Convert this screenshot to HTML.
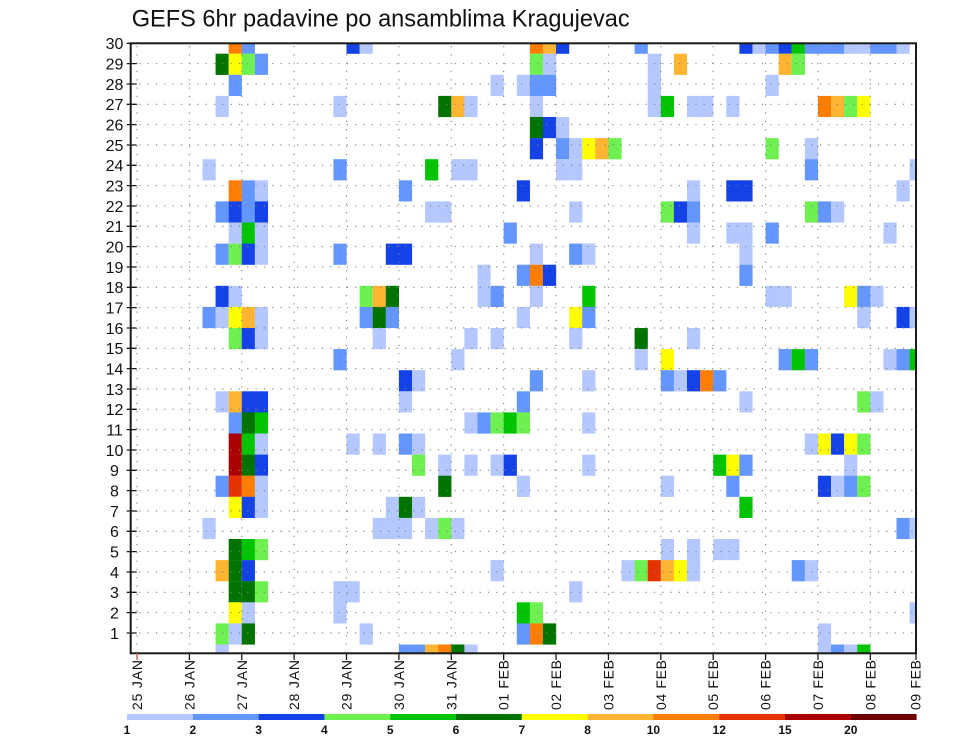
<!DOCTYPE html>
<html>
<head>
<meta charset="utf-8">
<style>
html,body{margin:0;padding:0;background:#fff;}
svg{display:block;}
.L{fill:#b4c8ff}.M{fill:#6496ff}.B{fill:#1442e6}
.g{fill:#6ef050}.G{fill:#00c400}.D{fill:#007300}
.Y{fill:#ffff00}.o{fill:#ffb432}.O{fill:#ff7d00}
.R{fill:#e63200}.K{fill:#aa0000}.X{fill:#6e0000}
text{font-family:"Liberation Sans",sans-serif;fill:#111;}
</style>
</head>
<body>
<svg width="960" height="742" viewBox="0 0 960 742" xmlns="http://www.w3.org/2000/svg">
<defs>
<clipPath id="pc"><rect x="130.7" y="43.3" width="785.3" height="610"/></clipPath>
</defs>
<rect x="0" y="0" width="960" height="742" fill="#fff"/>

<text x="131.7" y="26.7" font-size="24" textLength="498" lengthAdjust="spacingAndGlyphs">GEFS 6hr padavine po ansamblima Kragujevac</text>

<g clip-path="url(#pc)">
<!-- j0 -->
<g transform="translate(0,32.6)">
<rect x="228.67" width="13.2" height="21.2" class="O"/><rect x="241.76" width="13.2" height="21.2" class="M"/>
<rect x="346.52" width="13.2" height="21.2" class="B"/><rect x="359.62" width="13.2" height="21.2" class="L"/>
<rect x="529.85" width="13.2" height="21.2" class="O"/><rect x="542.95" width="13.2" height="21.2" class="o"/><rect x="556.04" width="13.2" height="21.2" class="B"/>
<rect x="634.61" width="13.2" height="21.2" class="M"/>
<rect x="739.37" width="13.2" height="21.2" class="B"/><rect x="752.47" width="13.2" height="21.2" class="L"/><rect x="765.56" width="13.2" height="21.2" class="M"/><rect x="778.66" width="13.2" height="21.2" class="B"/><rect x="791.75" width="13.2" height="21.2" class="G"/><rect x="804.85" width="13.2" height="21.2" class="M"/><rect x="817.94" width="13.2" height="21.2" class="M"/><rect x="831.04" width="13.2" height="21.2" class="M"/><rect x="844.13" width="13.2" height="21.2" class="L"/><rect x="857.23" width="13.2" height="21.2" class="L"/><rect x="870.32" width="13.2" height="21.2" class="M"/><rect x="883.42" width="13.2" height="21.2" class="M"/><rect x="896.51" width="13.2" height="21.2" class="L"/>
</g>
<!-- j1 -->
<g transform="translate(0,53.7)">
<rect x="215.57" width="13.2" height="21.2" class="D"/><rect x="228.67" width="13.2" height="21.2" class="Y"/><rect x="241.76" width="13.2" height="21.2" class="g"/><rect x="254.86" width="13.2" height="21.2" class="M"/>
<rect x="529.85" width="13.2" height="21.2" class="g"/><rect x="542.95" width="13.2" height="21.2" class="L"/>
<rect x="647.71" width="13.2" height="21.2" class="L"/><rect x="673.90" width="13.2" height="21.2" class="o"/>
<rect x="778.66" width="13.2" height="21.2" class="o"/><rect x="791.75" width="13.2" height="21.2" class="g"/>
</g>
<!-- j2 -->
<g transform="translate(0,74.8)">
<rect x="228.67" width="13.2" height="21.2" class="M"/>
<rect x="490.57" width="13.2" height="21.2" class="L"/><rect x="516.76" width="13.2" height="21.2" class="L"/><rect x="529.85" width="13.2" height="21.2" class="M"/><rect x="542.95" width="13.2" height="21.2" class="M"/>
<rect x="647.71" width="13.2" height="21.2" class="L"/><rect x="765.56" width="13.2" height="21.2" class="L"/>
</g>
<!-- j3 -->
<g transform="translate(0,95.9)">
<rect x="215.57" width="13.2" height="21.2" class="L"/><rect x="333.43" width="13.2" height="21.2" class="L"/>
<rect x="438.19" width="13.2" height="21.2" class="D"/><rect x="451.28" width="13.2" height="21.2" class="o"/><rect x="464.38" width="13.2" height="21.2" class="L"/>
<rect x="529.85" width="13.2" height="21.2" class="L"/>
<rect x="647.71" width="13.2" height="21.2" class="L"/><rect x="660.80" width="13.2" height="21.2" class="G"/><rect x="686.99" width="13.2" height="21.2" class="L"/><rect x="700.09" width="13.2" height="21.2" class="L"/><rect x="726.28" width="13.2" height="21.2" class="L"/>
<rect x="817.94" width="13.2" height="21.2" class="O"/><rect x="831.04" width="13.2" height="21.2" class="o"/><rect x="844.13" width="13.2" height="21.2" class="g"/><rect x="857.23" width="13.2" height="21.2" class="Y"/>
</g>
<!-- j4 -->
<g transform="translate(0,117.0)">
<rect x="529.85" width="13.2" height="21.2" class="D"/><rect x="542.95" width="13.2" height="21.2" class="B"/><rect x="556.04" width="13.2" height="21.2" class="L"/>
</g>
<!-- j5 -->
<g transform="translate(0,138.1)">
<rect x="529.85" width="13.2" height="21.2" class="B"/><rect x="556.04" width="13.2" height="21.2" class="M"/><rect x="569.14" width="13.2" height="21.2" class="L"/><rect x="582.23" width="13.2" height="21.2" class="Y"/><rect x="595.33" width="13.2" height="21.2" class="o"/><rect x="608.42" width="13.2" height="21.2" class="g"/>
<rect x="765.56" width="13.2" height="21.2" class="g"/><rect x="804.85" width="13.2" height="21.2" class="L"/>
</g>
<!-- j6 -->
<g transform="translate(0,159.2)">
<rect x="202.48" width="13.2" height="21.2" class="L"/><rect x="333.43" width="13.2" height="21.2" class="M"/>
<rect x="425.09" width="13.2" height="21.2" class="G"/><rect x="451.28" width="13.2" height="21.2" class="L"/><rect x="464.38" width="13.2" height="21.2" class="L"/>
<rect x="556.04" width="13.2" height="21.2" class="L"/><rect x="569.14" width="13.2" height="21.2" class="L"/>
<rect x="804.85" width="13.2" height="21.2" class="M"/><rect x="909.61" width="13.2" height="21.2" class="L"/>
</g>
<!-- j7 -->
<g transform="translate(0,180.3)">
<rect x="228.67" width="13.2" height="21.2" class="O"/><rect x="241.76" width="13.2" height="21.2" class="M"/><rect x="254.86" width="13.2" height="21.2" class="L"/>
<rect x="398.90" width="13.2" height="21.2" class="M"/><rect x="516.76" width="13.2" height="21.2" class="B"/>
<rect x="686.99" width="13.2" height="21.2" class="L"/><rect x="726.28" width="13.2" height="21.2" class="B"/><rect x="739.37" width="13.2" height="21.2" class="B"/>
<rect x="896.51" width="13.2" height="21.2" class="L"/>
</g>
<!-- j8 -->
<g transform="translate(0,201.4)">
<rect x="215.57" width="13.2" height="21.2" class="M"/><rect x="228.67" width="13.2" height="21.2" class="B"/><rect x="241.76" width="13.2" height="21.2" class="M"/><rect x="254.86" width="13.2" height="21.2" class="B"/>
<rect x="425.09" width="13.2" height="21.2" class="L"/><rect x="438.19" width="13.2" height="21.2" class="L"/><rect x="569.14" width="13.2" height="21.2" class="L"/>
<rect x="660.80" width="13.2" height="21.2" class="g"/><rect x="673.90" width="13.2" height="21.2" class="B"/><rect x="686.99" width="13.2" height="21.2" class="M"/>
<rect x="804.85" width="13.2" height="21.2" class="g"/><rect x="817.94" width="13.2" height="21.2" class="M"/><rect x="831.04" width="13.2" height="21.2" class="L"/>
</g>
<!-- j9 -->
<g transform="translate(0,222.5)">
<rect x="228.67" width="13.2" height="21.2" class="L"/><rect x="241.76" width="13.2" height="21.2" class="G"/><rect x="254.86" width="13.2" height="21.2" class="L"/>
<rect x="503.66" width="13.2" height="21.2" class="M"/>
<rect x="686.99" width="13.2" height="21.2" class="L"/><rect x="726.28" width="13.2" height="21.2" class="L"/><rect x="739.37" width="13.2" height="21.2" class="L"/><rect x="765.56" width="13.2" height="21.2" class="M"/><rect x="883.42" width="13.2" height="21.2" class="L"/>
</g>
<!-- j10 -->
<g transform="translate(0,243.6)">
<rect x="215.57" width="13.2" height="21.2" class="M"/><rect x="228.67" width="13.2" height="21.2" class="g"/><rect x="241.76" width="13.2" height="21.2" class="B"/><rect x="254.86" width="13.2" height="21.2" class="L"/>
<rect x="333.43" width="13.2" height="21.2" class="M"/><rect x="385.81" width="13.2" height="21.2" class="B"/><rect x="398.90" width="13.2" height="21.2" class="B"/>
<rect x="529.85" width="13.2" height="21.2" class="L"/><rect x="569.14" width="13.2" height="21.2" class="M"/><rect x="582.23" width="13.2" height="21.2" class="L"/>
<rect x="739.37" width="13.2" height="21.2" class="L"/>
</g>
<!-- j11 -->
<g transform="translate(0,264.7)">
<rect x="477.47" width="13.2" height="21.2" class="L"/><rect x="516.76" width="13.2" height="21.2" class="M"/><rect x="529.85" width="13.2" height="21.2" class="O"/><rect x="542.95" width="13.2" height="21.2" class="B"/>
<rect x="739.37" width="13.2" height="21.2" class="M"/>
</g>
<!-- j12 -->
<g transform="translate(0,285.8)">
<rect x="215.57" width="13.2" height="21.2" class="B"/><rect x="228.67" width="13.2" height="21.2" class="L"/>
<rect x="359.62" width="13.2" height="21.2" class="g"/><rect x="372.71" width="13.2" height="21.2" class="o"/><rect x="385.81" width="13.2" height="21.2" class="D"/>
<rect x="477.47" width="13.2" height="21.2" class="L"/><rect x="490.57" width="13.2" height="21.2" class="M"/><rect x="529.85" width="13.2" height="21.2" class="L"/><rect x="582.23" width="13.2" height="21.2" class="G"/>
<rect x="765.56" width="13.2" height="21.2" class="L"/><rect x="778.66" width="13.2" height="21.2" class="L"/>
<rect x="844.13" width="13.2" height="21.2" class="Y"/><rect x="857.23" width="13.2" height="21.2" class="M"/><rect x="870.32" width="13.2" height="21.2" class="L"/>
</g>
<!-- j13 -->
<g transform="translate(0,306.9)">
<rect x="202.48" width="13.2" height="21.2" class="M"/><rect x="215.57" width="13.2" height="21.2" class="L"/><rect x="228.67" width="13.2" height="21.2" class="Y"/><rect x="241.76" width="13.2" height="21.2" class="o"/><rect x="254.86" width="13.2" height="21.2" class="L"/>
<rect x="359.62" width="13.2" height="21.2" class="M"/><rect x="372.71" width="13.2" height="21.2" class="D"/><rect x="385.81" width="13.2" height="21.2" class="M"/>
<rect x="516.76" width="13.2" height="21.2" class="L"/><rect x="569.14" width="13.2" height="21.2" class="Y"/><rect x="582.23" width="13.2" height="21.2" class="M"/>
<rect x="857.23" width="13.2" height="21.2" class="L"/><rect x="896.51" width="13.2" height="21.2" class="B"/><rect x="909.61" width="13.2" height="21.2" class="L"/>
</g>
<!-- j14 -->
<g transform="translate(0,328.0)">
<rect x="228.67" width="13.2" height="21.2" class="g"/><rect x="241.76" width="13.2" height="21.2" class="B"/><rect x="254.86" width="13.2" height="21.2" class="L"/>
<rect x="372.71" width="13.2" height="21.2" class="L"/><rect x="464.38" width="13.2" height="21.2" class="L"/><rect x="490.57" width="13.2" height="21.2" class="L"/><rect x="569.14" width="13.2" height="21.2" class="L"/>
<rect x="634.61" width="13.2" height="21.2" class="D"/><rect x="686.99" width="13.2" height="21.2" class="L"/>
</g>
<!-- j15 -->
<g transform="translate(0,349.1)">
<rect x="333.43" width="13.2" height="21.2" class="M"/><rect x="451.28" width="13.2" height="21.2" class="L"/><rect x="634.61" width="13.2" height="21.2" class="L"/>
<rect x="660.80" width="13.2" height="21.2" class="Y"/>
<rect x="778.66" width="13.2" height="21.2" class="M"/><rect x="791.75" width="13.2" height="21.2" class="G"/><rect x="804.85" width="13.2" height="21.2" class="M"/>
<rect x="883.42" width="13.2" height="21.2" class="L"/><rect x="896.51" width="13.2" height="21.2" class="M"/><rect x="909.61" width="13.2" height="21.2" class="G"/>
</g>
<!-- j16 -->
<g transform="translate(0,370.2)">
<rect x="398.90" width="13.2" height="21.2" class="B"/><rect x="412.00" width="13.2" height="21.2" class="L"/>
<rect x="529.85" width="13.2" height="21.2" class="M"/><rect x="582.23" width="13.2" height="21.2" class="L"/>
<rect x="660.80" width="13.2" height="21.2" class="M"/><rect x="673.90" width="13.2" height="21.2" class="L"/><rect x="686.99" width="13.2" height="21.2" class="B"/><rect x="700.09" width="13.2" height="21.2" class="O"/><rect x="713.18" width="13.2" height="21.2" class="M"/>
</g>
<!-- j17 -->
<g transform="translate(0,391.3)">
<rect x="215.57" width="13.2" height="21.2" class="L"/><rect x="228.67" width="13.2" height="21.2" class="o"/><rect x="241.76" width="13.2" height="21.2" class="B"/><rect x="254.86" width="13.2" height="21.2" class="B"/>
<rect x="398.90" width="13.2" height="21.2" class="L"/><rect x="516.76" width="13.2" height="21.2" class="M"/>
<rect x="739.37" width="13.2" height="21.2" class="L"/><rect x="857.23" width="13.2" height="21.2" class="g"/><rect x="870.32" width="13.2" height="21.2" class="L"/>
</g>
<!-- j18 -->
<g transform="translate(0,412.4)">
<rect x="228.67" width="13.2" height="21.2" class="M"/><rect x="241.76" width="13.2" height="21.2" class="D"/><rect x="254.86" width="13.2" height="21.2" class="G"/>
<rect x="464.38" width="13.2" height="21.2" class="L"/><rect x="477.47" width="13.2" height="21.2" class="M"/><rect x="490.57" width="13.2" height="21.2" class="g"/><rect x="503.66" width="13.2" height="21.2" class="G"/><rect x="516.76" width="13.2" height="21.2" class="g"/>
<rect x="582.23" width="13.2" height="21.2" class="L"/>
</g>
<!-- j19 -->
<g transform="translate(0,433.5)">
<rect x="228.67" width="13.2" height="21.2" class="K"/><rect x="241.76" width="13.2" height="21.2" class="G"/><rect x="254.86" width="13.2" height="21.2" class="L"/>
<rect x="346.52" width="13.2" height="21.2" class="L"/><rect x="372.71" width="13.2" height="21.2" class="L"/><rect x="398.90" width="13.2" height="21.2" class="M"/><rect x="412.00" width="13.2" height="21.2" class="L"/>
<rect x="804.85" width="13.2" height="21.2" class="L"/><rect x="817.94" width="13.2" height="21.2" class="Y"/><rect x="831.04" width="13.2" height="21.2" class="B"/><rect x="844.13" width="13.2" height="21.2" class="Y"/><rect x="857.23" width="13.2" height="21.2" class="g"/>
</g>
<!-- j20 -->
<g transform="translate(0,454.6)">
<rect x="228.67" width="13.2" height="21.2" class="K"/><rect x="241.76" width="13.2" height="21.2" class="D"/><rect x="254.86" width="13.2" height="21.2" class="B"/>
<rect x="412.00" width="13.2" height="21.2" class="g"/><rect x="438.19" width="13.2" height="21.2" class="L"/><rect x="464.38" width="13.2" height="21.2" class="L"/><rect x="490.57" width="13.2" height="21.2" class="L"/><rect x="503.66" width="13.2" height="21.2" class="B"/><rect x="582.23" width="13.2" height="21.2" class="L"/>
<rect x="713.18" width="13.2" height="21.2" class="G"/><rect x="726.28" width="13.2" height="21.2" class="Y"/><rect x="739.37" width="13.2" height="21.2" class="M"/><rect x="844.13" width="13.2" height="21.2" class="L"/>
</g>
<!-- j21 -->
<g transform="translate(0,475.7)">
<rect x="215.57" width="13.2" height="21.2" class="M"/><rect x="228.67" width="13.2" height="21.2" class="R"/><rect x="241.76" width="13.2" height="21.2" class="O"/><rect x="254.86" width="13.2" height="21.2" class="L"/>
<rect x="438.19" width="13.2" height="21.2" class="D"/><rect x="516.76" width="13.2" height="21.2" class="L"/>
<rect x="660.80" width="13.2" height="21.2" class="L"/><rect x="726.28" width="13.2" height="21.2" class="M"/>
<rect x="817.94" width="13.2" height="21.2" class="B"/><rect x="831.04" width="13.2" height="21.2" class="L"/><rect x="844.13" width="13.2" height="21.2" class="M"/><rect x="857.23" width="13.2" height="21.2" class="g"/>
</g>
<!-- j22 -->
<g transform="translate(0,496.8)">
<rect x="228.67" width="13.2" height="21.2" class="Y"/><rect x="241.76" width="13.2" height="21.2" class="B"/><rect x="254.86" width="13.2" height="21.2" class="L"/>
<rect x="385.81" width="13.2" height="21.2" class="L"/><rect x="398.90" width="13.2" height="21.2" class="D"/><rect x="412.00" width="13.2" height="21.2" class="L"/>
<rect x="739.37" width="13.2" height="21.2" class="G"/>
</g>
<!-- j23 -->
<g transform="translate(0,517.9)">
<rect x="202.48" width="13.2" height="21.2" class="L"/>
<rect x="372.71" width="13.2" height="21.2" class="L"/><rect x="385.81" width="13.2" height="21.2" class="L"/><rect x="398.90" width="13.2" height="21.2" class="L"/><rect x="425.09" width="13.2" height="21.2" class="L"/><rect x="438.19" width="13.2" height="21.2" class="g"/><rect x="451.28" width="13.2" height="21.2" class="L"/>
<rect x="896.51" width="13.2" height="21.2" class="M"/><rect x="909.61" width="13.2" height="21.2" class="L"/>
</g>
<!-- j24 -->
<g transform="translate(0,539.0)">
<rect x="228.67" width="13.2" height="21.2" class="D"/><rect x="241.76" width="13.2" height="21.2" class="G"/><rect x="254.86" width="13.2" height="21.2" class="g"/>
<rect x="660.80" width="13.2" height="21.2" class="L"/><rect x="686.99" width="13.2" height="21.2" class="L"/><rect x="713.18" width="13.2" height="21.2" class="L"/><rect x="726.28" width="13.2" height="21.2" class="L"/>
</g>
<!-- j25 -->
<g transform="translate(0,560.1)">
<rect x="215.57" width="13.2" height="21.2" class="o"/><rect x="228.67" width="13.2" height="21.2" class="D"/><rect x="241.76" width="13.2" height="21.2" class="B"/>
<rect x="490.57" width="13.2" height="21.2" class="L"/>
<rect x="621.52" width="13.2" height="21.2" class="L"/><rect x="634.61" width="13.2" height="21.2" class="g"/><rect x="647.71" width="13.2" height="21.2" class="R"/><rect x="660.80" width="13.2" height="21.2" class="o"/><rect x="673.90" width="13.2" height="21.2" class="Y"/><rect x="686.99" width="13.2" height="21.2" class="L"/>
<rect x="791.75" width="13.2" height="21.2" class="M"/><rect x="804.85" width="13.2" height="21.2" class="L"/>
</g>
<!-- j26 -->
<g transform="translate(0,581.2)">
<rect x="228.67" width="13.2" height="21.2" class="D"/><rect x="241.76" width="13.2" height="21.2" class="D"/><rect x="254.86" width="13.2" height="21.2" class="g"/>
<rect x="333.43" width="13.2" height="21.2" class="L"/><rect x="346.52" width="13.2" height="21.2" class="L"/><rect x="569.14" width="13.2" height="21.2" class="L"/>
</g>
<!-- j27 -->
<g transform="translate(0,602.3)">
<rect x="228.67" width="13.2" height="21.2" class="Y"/><rect x="241.76" width="13.2" height="21.2" class="L"/>
<rect x="333.43" width="13.2" height="21.2" class="L"/>
<rect x="516.76" width="13.2" height="21.2" class="G"/><rect x="529.85" width="13.2" height="21.2" class="g"/>
<rect x="909.61" width="13.2" height="21.2" class="L"/>
</g>
<!-- j28 -->
<g transform="translate(0,623.4)">
<rect x="215.57" width="13.2" height="21.2" class="g"/><rect x="228.67" width="13.2" height="21.2" class="L"/><rect x="241.76" width="13.2" height="21.2" class="D"/>
<rect x="359.62" width="13.2" height="21.2" class="L"/>
<rect x="516.76" width="13.2" height="21.2" class="M"/><rect x="529.85" width="13.2" height="21.2" class="O"/><rect x="542.95" width="13.2" height="21.2" class="D"/>
<rect x="817.94" width="13.2" height="21.2" class="L"/>
</g>
<!-- j29 -->
<g transform="translate(0,644.5)">
<rect x="215.57" width="13.2" height="21.2" class="L"/>
<rect x="398.90" width="13.2" height="21.2" class="M"/><rect x="412.00" width="13.2" height="21.2" class="M"/><rect x="425.09" width="13.2" height="21.2" class="o"/><rect x="438.19" width="13.2" height="21.2" class="O"/><rect x="451.28" width="13.2" height="21.2" class="D"/><rect x="464.38" width="13.2" height="21.2" class="L"/>
<rect x="817.94" width="13.2" height="21.2" class="L"/><rect x="831.04" width="13.2" height="21.2" class="M"/><rect x="844.13" width="13.2" height="21.2" class="L"/><rect x="857.23" width="13.2" height="21.2" class="G"/>
</g>

<!-- dotted grid -->
<g stroke="#808080" stroke-width="1.1" stroke-dasharray="1.2 7.1" fill="none">
<path d="M131 632.97H916M131 612.63H916M131 592.3H916M131 571.97H916M131 551.63H916M131 531.3H916M131 510.97H916M131 490.63H916M131 470.3H916M131 449.97H916M131 429.63H916M131 409.3H916M131 388.97H916M131 368.63H916M131 348.3H916M131 327.97H916M131 307.63H916M131 287.3H916M131 266.97H916M131 246.63H916M131 226.3H916M131 205.97H916M131 185.63H916M131 165.3H916M131 144.97H916M131 124.63H916M131 104.3H916M131 83.97H916M131 63.63H916"/>
<path d="M137 46V653M189.38 46V653M241.76 46V653M294.14 46V653M346.52 46V653M398.9 46V653M451.28 46V653M503.66 46V653M556.04 46V653M608.42 46V653M660.8 46V653M713.18 46V653M765.56 46V653M817.94 46V653M870.32 46V653"/>
</g>
</g>

<!-- frame -->
<rect x="130.7" y="43.3" width="785.3" height="610" fill="none" stroke="#1a1a1a" stroke-width="2"/>

<!-- y ticks -->
<g stroke="#1a1a1a" stroke-width="1.3">
<path d="M126.7 632.97H136.7M126.7 612.63H136.7M126.7 592.3H136.7M126.7 571.97H136.7M126.7 551.63H136.7M126.7 531.3H136.7M126.7 510.97H136.7M126.7 490.63H136.7M126.7 470.3H136.7M126.7 449.97H136.7M126.7 429.63H136.7M126.7 409.3H136.7M126.7 388.97H136.7M126.7 368.63H136.7M126.7 348.3H136.7M126.7 327.97H136.7M126.7 307.63H136.7M126.7 287.3H136.7M126.7 266.97H136.7M126.7 246.63H136.7M126.7 226.3H136.7M126.7 205.97H136.7M126.7 185.63H136.7M126.7 165.3H136.7M126.7 144.97H136.7M126.7 124.63H136.7M126.7 104.3H136.7M126.7 83.97H136.7M126.7 63.63H136.7M126.7 43.3H136.7"/>
<path d="M189.38 653V660M241.76 653V660M294.14 653V660M346.52 653V660M398.9 653V660M451.28 653V660M503.66 653V660M556.04 653V660M608.42 653V660M660.8 653V660M713.18 653V660M765.56 653V660M817.94 653V660M870.32 653V660M916 653V660"/>
</g>
<path d="M137 653V660" stroke="#c05050" stroke-width="1.3"/>

<!-- y labels -->
<g font-size="16" text-anchor="middle">
<text x="114.5" y="638.8">1</text>
<text x="114.5" y="618.5">2</text>
<text x="114.5" y="598.2">3</text>
<text x="114.5" y="577.8">4</text>
<text x="114.5" y="557.5">5</text>
<text x="114.5" y="537.2">6</text>
<text x="114.5" y="516.8">7</text>
<text x="114.5" y="496.5">8</text>
<text x="114.5" y="476.2">9</text>
<text x="114.5" y="455.8">10</text>
<text x="114.5" y="435.5">11</text>
<text x="114.5" y="415.2">12</text>
<text x="114.5" y="394.8">13</text>
<text x="114.5" y="374.5">14</text>
<text x="114.5" y="354.2">15</text>
<text x="114.5" y="333.8">16</text>
<text x="114.5" y="313.5">17</text>
<text x="114.5" y="293.2">18</text>
<text x="114.5" y="272.8">19</text>
<text x="114.5" y="252.5">20</text>
<text x="114.5" y="232.2">21</text>
<text x="114.5" y="211.8">22</text>
<text x="114.5" y="191.5">23</text>
<text x="114.5" y="171.2">24</text>
<text x="114.5" y="150.8">25</text>
<text x="114.5" y="130.5">26</text>
<text x="114.5" y="110.2">27</text>
<text x="114.5" y="89.8">28</text>
<text x="114.5" y="69.5">29</text>
<text x="114.5" y="49.2">30</text>
</g>

<!-- x labels (rotated) -->
<g font-size="14">
<text transform="translate(142,710) rotate(-90)" textLength="50" lengthAdjust="spacing">25 JAN</text>
<text transform="translate(194.4,710) rotate(-90)" textLength="50" lengthAdjust="spacing">26 JAN</text>
<text transform="translate(246.8,710) rotate(-90)" textLength="50" lengthAdjust="spacing">27 JAN</text>
<text transform="translate(299.1,710) rotate(-90)" textLength="50" lengthAdjust="spacing">28 JAN</text>
<text transform="translate(351.5,710) rotate(-90)" textLength="50" lengthAdjust="spacing">29 JAN</text>
<text transform="translate(403.9,710) rotate(-90)" textLength="50" lengthAdjust="spacing">30 JAN</text>
<text transform="translate(456.3,710) rotate(-90)" textLength="50" lengthAdjust="spacing">31 JAN</text>
<text transform="translate(508.7,710) rotate(-90)" textLength="50" lengthAdjust="spacing">01 FEB</text>
<text transform="translate(561,710) rotate(-90)" textLength="50" lengthAdjust="spacing">02 FEB</text>
<text transform="translate(613.4,710) rotate(-90)" textLength="50" lengthAdjust="spacing">03 FEB</text>
<text transform="translate(665.8,710) rotate(-90)" textLength="50" lengthAdjust="spacing">04 FEB</text>
<text transform="translate(718.2,710) rotate(-90)" textLength="50" lengthAdjust="spacing">05 FEB</text>
<text transform="translate(770.6,710) rotate(-90)" textLength="50" lengthAdjust="spacing">06 FEB</text>
<text transform="translate(822.9,710) rotate(-90)" textLength="50" lengthAdjust="spacing">07 FEB</text>
<text transform="translate(875.3,710) rotate(-90)" textLength="50" lengthAdjust="spacing">08 FEB</text>
<text transform="translate(920.5,710) rotate(-90)" textLength="50" lengthAdjust="spacing">09 FEB</text>
</g>

<!-- legend -->
<g>
<rect x="127" y="714" width="65.9" height="6" class="L"/>
<rect x="192.8" y="714" width="65.9" height="6" class="M"/>
<rect x="258.6" y="714" width="65.9" height="6" class="B"/>
<rect x="324.4" y="714" width="65.9" height="6" class="g"/>
<rect x="390.2" y="714" width="65.9" height="6" class="G"/>
<rect x="456" y="714" width="65.9" height="6" class="D"/>
<rect x="521.8" y="714" width="65.9" height="6" class="Y"/>
<rect x="587.6" y="714" width="65.9" height="6" class="o"/>
<rect x="653.4" y="714" width="65.9" height="6" class="O"/>
<rect x="719.2" y="714" width="65.9" height="6" class="R"/>
<rect x="785" y="714" width="65.9" height="6" class="K"/>
<rect x="850.8" y="714" width="65.8" height="6" class="X"/>
</g>
<g font-size="12" font-weight="bold" text-anchor="middle">
<text x="127" y="734">1</text>
<text x="192.8" y="734">2</text>
<text x="258.6" y="734">3</text>
<text x="324.4" y="734">4</text>
<text x="390.2" y="734">5</text>
<text x="456" y="734">6</text>
<text x="521.8" y="734">7</text>
<text x="587.6" y="734">8</text>
<text x="653.4" y="734">10</text>
<text x="719.2" y="734">12</text>
<text x="785" y="734">15</text>
<text x="850.8" y="734">20</text>
</g>
</svg>
</body>
</html>
